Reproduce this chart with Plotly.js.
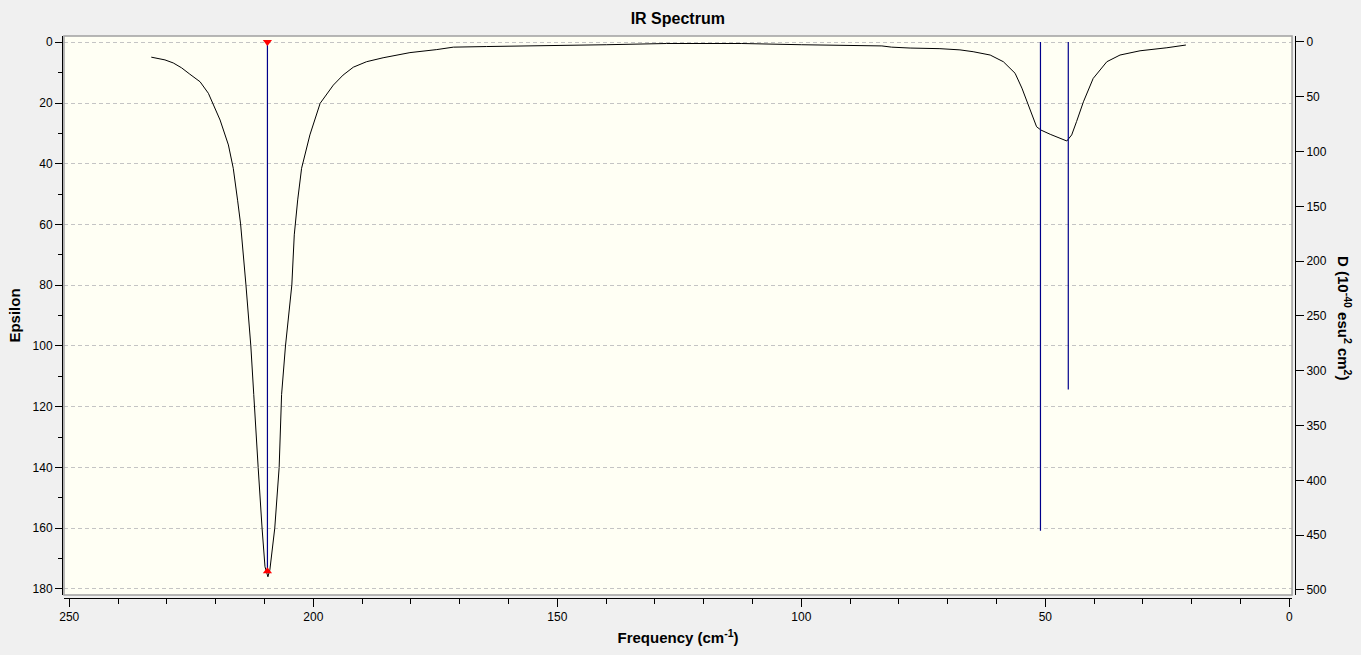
<!DOCTYPE html>
<html>
<head>
<meta charset="utf-8">
<script src="https://cdn.plot.ly/plotly-3.0.1.min.js"></script>
<style>
  html, body { margin: 0; padding: 0; background: #f0f0f0; }
  #ir-plot { width: 1361px; height: 655px; }
</style>
</head>
<body>
<div id="ir-plot"></div>
<script>
// broadened spectrum (frequency in cm-1, epsilon)
const specFreq = [
  233.2, 230.4, 228.7, 227.0, 225.3, 223.2, 221.5, 219.1, 217.4, 216.4,
  215.5, 214.9, 213.8, 212.8, 212.2, 211.7, 211.3, 210.5, 209.9, 209.3,
  208.9, 207.9, 207.0, 206.5, 205.7, 204.4, 203.9, 203.2, 202.4, 200.7,
  198.6, 195.9, 193.9, 191.8, 189.1, 185.7, 182.2, 180.2, 174.7, 171.3,
  164.5, 152.2, 139.9, 127.6, 112.2, 100.0, 93.8, 83.5, 81.5, 77.7,
  71.6, 67.5, 64.8, 61.3, 58.6, 56.2, 54.8, 53.5, 51.8, 50.9,
  49.0, 45.6, 44.6, 43.6, 42.2, 40.2, 37.4, 34.7, 30.6, 25.1,
  21.2
];
const specEps = [
  4.9, 5.8, 6.8, 8.4, 10.5, 13.0, 16.8, 25.6, 33.8, 41.5,
  52.2, 59.8, 79.9, 100, 116, 127.7, 140, 160, 172.7, 176,
  173.7, 160, 140, 116, 100, 79.9, 63.4, 51.9, 41.5, 30.5,
  20.1, 14.1, 10.8, 8.2, 6.4, 5.1, 3.9, 3.4, 2.4, 1.6,
  1.4, 1.2, 0.8, 0.4, 0.4, 0.8, 0.9, 1.2, 1.6, 1.9,
  2.1, 2.5, 3.1, 4.2, 6.4, 10.2, 15.1, 20.6, 27.8, 28.9,
  30.3, 32.5, 30.5, 26.1, 19.6, 11.9, 6.4, 4.2, 2.8, 1.8,
  0.9
];

// stick spectrum (frequency, D in 1e-40 esu^2 cm^2)
const stickFreq = [209.4, 51.0, 45.3];
const stickD = [483, 446, 317];
const selectedStick = 0;

const stickX = [];
const stickY = [];
stickFreq.forEach((f, i) => {
  stickX.push(f, f, null);
  stickY.push(0, stickD[i], null);
});

const axisFont = { family: "Liberation Sans, Arial, sans-serif", size: 12, color: "#000" };
const titleFont = { family: "Liberation Sans, Arial, sans-serif", size: 15, color: "#000", weight: "bold" };
const gridColor = "#c4c4c4";

const data = [
  {
    x: specFreq,
    y: specEps,
    type: "scatter",
    mode: "lines",
    line: { color: "#000", width: 1 },
    xaxis: "x",
    yaxis: "y",
    hoverinfo: "skip",
  },
  {
    x: stickX,
    y: stickY,
    type: "scatter",
    mode: "lines",
    line: { color: "#00008b", width: 1.2 },
    xaxis: "x",
    yaxis: "y2",
    hoverinfo: "skip",
  },
  {
    x: [stickFreq[selectedStick], stickFreq[selectedStick]],
    y: [0, stickD[selectedStick]],
    type: "scatter",
    mode: "markers",
    marker: { color: "#ff0000", size: 8, symbol: ["triangle-down", "triangle-up"] },
    xaxis: "x",
    yaxis: "y2",
    hoverinfo: "skip",
  },
];

const layout = {
  width: 1361,
  height: 655,
  paper_bgcolor: "#f0f0f0",
  plot_bgcolor: "#fffff4",
  showlegend: false,
  hovermode: false,
  margin: { l: 62, r: 66, t: 36, b: 57 },
  title: {
    text: "<b>IR Spectrum</b>",
    font: { family: "Liberation Sans, Arial, sans-serif", size: 16, color: "#000" },
    x: 0.498,
    xanchor: "center",
    y: 1 - 18 / 655,
    yanchor: "middle",
  },
  xaxis: {
    domain: [0.0016, 0.9976],
    anchor: "free",
    position: 0,
    range: [251.09, -0.55],
    tick0: 0,
    dtick: 50,
    ticks: "outside",
    ticklen: 8,
    tickcolor: "#000",
    showline: true,
    linecolor: "#000",
    linewidth: 1,
    showgrid: false,
    zeroline: false,
    tickfont: axisFont,
    minor: { dtick: 10, ticks: "outside", ticklen: 5, tickcolor: "#000", showgrid: false },
    title: { text: "<b>Frequency (cm<sup>-1</sup>)</b>", font: titleFont, standoff: 9 },
  },
  // only carries the vertical grid, which sits a few pixels off the ticks
  xaxis2: {
    domain: [0.0016, 0.9976],
    overlaying: "x",
    anchor: "y",
    range: [252.61, 0.97],
    tick0: 0,
    dtick: 50,
    showticklabels: false,
    ticks: "",
    showgrid: true,
    gridcolor: gridColor,
    griddash: "4px,3px",
    zeroline: false,
    showline: false,
  },
  yaxis: {
    domain: [0.0053, 1],
    anchor: "free",
    position: 0,
    range: [182.0, -2.07],
    tick0: 0,
    dtick: 20,
    ticks: "outside",
    ticklen: 7,
    tickcolor: "#000",
    showline: true,
    linecolor: "#000",
    linewidth: 1,
    showgrid: true,
    gridcolor: gridColor,
    griddash: "4px,3px",
    zeroline: false,
    tickfont: axisFont,
    minor: { dtick: 10, ticks: "outside", ticklen: 4, tickcolor: "#000", showgrid: false },
    title: { text: "<b>Epsilon</b>", font: titleFont, standoff: 7 },
  },
  yaxis2: {
    domain: [0.0053, 1],
    overlaying: "y",
    side: "right",
    anchor: "free",
    position: 1,
    range: [504.6, -5.47],
    tick0: 0,
    dtick: 50,
    ticks: "outside",
    ticklen: 8,
    tickcolor: "#000",
    showline: true,
    linecolor: "#000",
    linewidth: 1,
    showgrid: false,
    zeroline: false,
    tickfont: axisFont,
  },
  shapes: [
    {
      type: "rect",
      xref: "paper",
      yref: "paper",
      x0: 0.0016,
      x1: 0.9976,
      y0: 0.0053,
      y1: 1,
      line: { color: "#a0a0a0", width: 1.5 },
      fillcolor: "rgba(0,0,0,0)",
      layer: "above",
    },
  ],
  annotations: [
    {
      text: "<b>D (10<sup>-40</sup> esu<sup>2</sup> cm<sup>2</sup>)</b>",
      xref: "paper",
      yref: "paper",
      x: (1345 - 62) / 1233,
      y: (598 - 318) / 562,
      xanchor: "center",
      yanchor: "middle",
      textangle: 90,
      showarrow: false,
      font: titleFont,
    },
  ],
};

const config = {
  displayModeBar: false,
  staticPlot: true,
};

Plotly.newPlot("ir-plot", data, layout, config);
</script>
</body>
</html>
